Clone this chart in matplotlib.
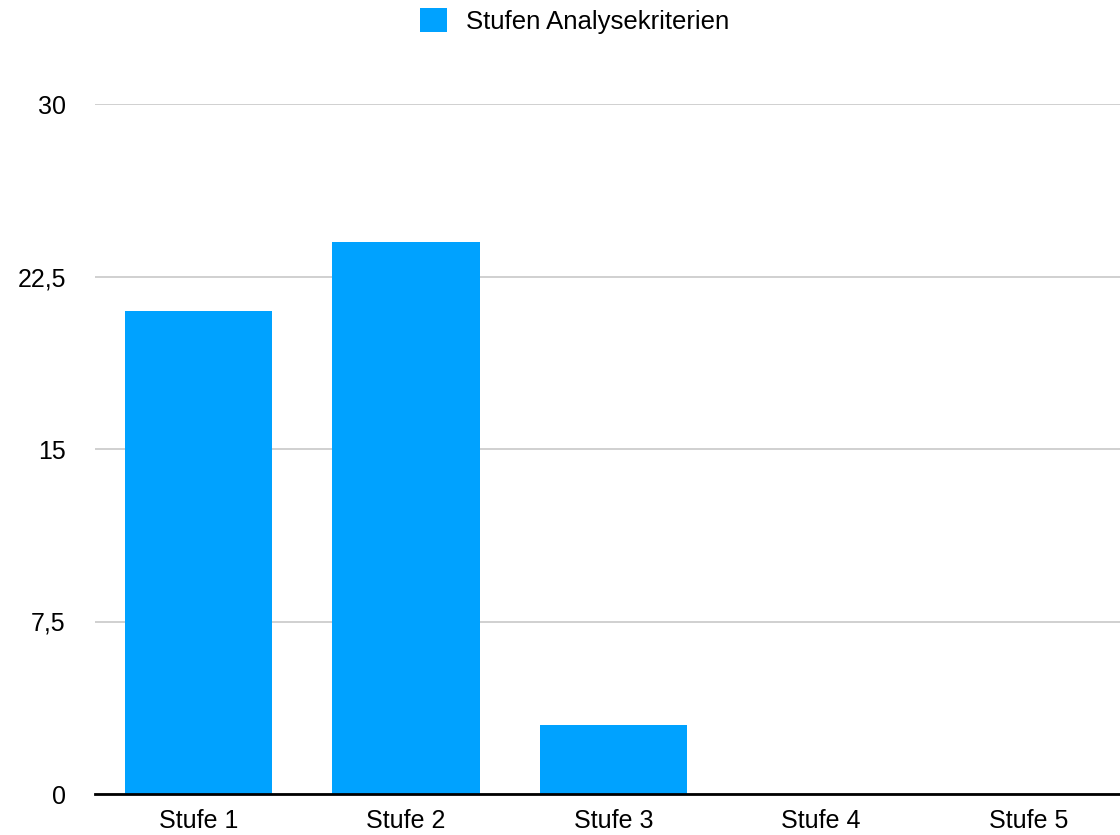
import matplotlib.pyplot as plt
from matplotlib.patches import Patch

# ----------- DATA ------------
categories = ['Stufe 1', 'Stufe 2', 'Stufe 3', 'Stufe 4', 'Stufe 5']
values = [21, 24, 3, 0, 0]
yticks = [0, 7.5, 15, 22.5, 30]
ytick_labels = ['0', '7,5', '15', '22,5', '30']
series_name = 'Stufen Analysekriterien'
# -----------------------------

plt.rcParams['font.family'] = ['Liberation Sans', 'DejaVu Sans']
BAR_COLOR = '#00A2FF'

W, H = 1120, 835
fig = plt.figure(figsize=(W / 100, H / 100), dpi=100)

# axes in pixel coords: left 95, right 1132 (beyond the figure edge), y0 at 794, y30 at 104
left, right, bottom, top = 95, 1132, 794, 104
ax = fig.add_axes([left / W, 1 - bottom / H, (right - left) / W, (bottom - top) / H])

x = range(len(categories))
ax.bar(x, values, width=0.71, color=BAR_COLOR, zorder=2)

ax.set_xlim(-0.5, len(categories) - 0.5)
ax.set_ylim(0, 30)
ax.set_xticks(list(x))
ax.set_xticklabels(categories, fontsize=18)
ax.set_yticks(yticks)
ax.set_yticklabels(ytick_labels, fontsize=18)
ax.tick_params(axis='both', length=0)
ax.tick_params(axis='y', pad=21)
ax.tick_params(axis='x', pad=11)

ax.grid(axis='y', color='#c8c8c8', linewidth=1.2, zorder=0)
ax.set_axisbelow(True)
for side in ['top', 'right', 'left']:
    ax.spines[side].set_visible(False)
ax.spines['bottom'].set_linewidth(2)
ax.spines['bottom'].set_color('black')
ax.spines['bottom'].set_zorder(3)

handle = Patch(facecolor=BAR_COLOR, edgecolor='none')
fig.legend([handle], [series_name], loc='center', bbox_to_anchor=(575 / W, 1 - 21 / H),
           frameon=False, fontsize=18.5, handlelength=1.05, handleheight=1.05,
           handletextpad=0.75)

fig.savefig('out.png', dpi=100)
